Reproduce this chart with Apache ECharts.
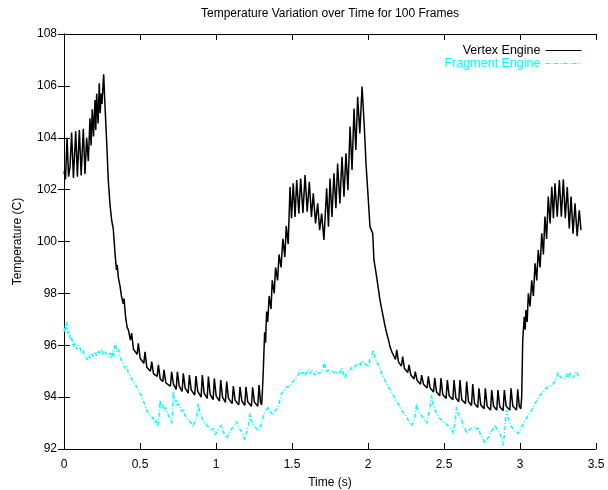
<!DOCTYPE html>
<html>
<head>
<meta charset="utf-8">
<script src="https://cdn.jsdelivr.net/npm/echarts@6/dist/echarts.min.js"></script>
<style>
html,body{margin:0;padding:0;background:#fff;}
#c{width:608px;height:490px;}
</style>
</head>
<body>
<div id="c"></div>
<script>
// ---- data (time in s, temperature in C) ----
var titleText = 'Temperature Variation over Time for 100 Frames';
var xTicks = [0, 0.5, 1, 1.5, 2, 2.5, 3, 3.5];
var yTicks = [92, 94, 96, 98, 100, 102, 104, 106, 108];
var seriesNames = ['Vertex Engine', 'Fragment Engine'];

var vertexData = [
[0.000,102.7],[0.010,102.4],[0.020,104.0],[0.030,102.5],[0.040,102.9],[0.050,104.2],[0.062,102.45],
[0.077,104.25],[0.088,102.5],[0.101,104.3],[0.113,102.55],[0.127,104.35],[0.138,102.6],[0.149,104.0],
[0.160,103.1],[0.171,104.75],[0.178,103.7],[0.186,105.1],[0.194,104.05],[0.204,105.45],[0.209,104.3],
[0.215,105.7],[0.224,104.55],[0.232,106.1],[0.238,104.95],[0.245,105.7],[0.250,105.3],[0.261,106.45],
[0.270,105.2],[0.281,103.8],[0.291,102.4],[0.303,101.4],[0.314,100.8],[0.324,100.5],[0.335,99.6],
[0.345,98.9],[0.350,99.1],[0.358,98.6],[0.368,98.3],[0.378,97.9],[0.390,97.6],[0.395,97.8],[0.405,97.1],
[0.415,96.7],[0.423,96.6],[0.437,96.2],[0.445,96.47],[0.457,95.85],[0.481,95.65],[0.489,96.07],
[0.501,95.5],[0.525,95.3],[0.533,95.75],[0.545,95.15],[0.569,95.0],[0.577,95.37],[0.589,94.9],
[0.613,94.8],[0.621,95.24],[0.633,94.7],[0.650,94.6],[0.658,95.05],[0.670,94.55],[0.700,94.42],
[0.708,94.98],[0.720,94.5],[0.738,94.3],[0.746,94.98],[0.758,94.42],[0.777,94.22],[0.785,94.92],
[0.797,94.35],[0.817,94.15],[0.825,94.85],[0.837,94.28],[0.860,94.08],[0.868,94.81],[0.880,94.22],
[0.902,94.0],[0.910,94.85],[0.922,94.15],[0.942,93.95],[0.950,94.79],[0.962,94.1],[0.981,93.9],
[0.989,94.72],[1.001,94.05],[1.023,93.85],[1.031,94.66],[1.043,94.0],[1.062,93.8],[1.070,94.6],
[1.082,93.95],[1.106,93.75],[1.114,94.43],[1.126,93.88],[1.150,93.7],[1.158,94.4],[1.170,93.85],
[1.189,93.68],[1.197,94.4],[1.209,93.82],[1.233,93.65],[1.241,94.38],[1.253,93.8],[1.275,93.65],
[1.283,94.47],[1.293,93.8],[1.300,93.7],[1.305,94.2],[1.311,95.0],[1.320,96.5],[1.326,96.1],
[1.333,97.3],[1.340,96.9],[1.350,97.9],[1.362,97.4],[1.370,98.5],[1.383,98.0],[1.392,99.0],
[1.405,98.5],[1.415,99.5],[1.428,99.0],[1.440,100.1],[1.453,99.4],[1.462,100.6],[1.475,99.9],
[1.487,102.1],[1.497,100.9],[1.508,102.24],[1.520,100.95],[1.531,102.37],[1.545,101.08],[1.557,102.43],
[1.572,101.1],[1.586,102.56],[1.600,101.15],[1.614,102.3],[1.628,100.95],[1.640,101.86],[1.655,100.7],
[1.669,101.47],[1.682,100.44],[1.695,101.08],[1.710,100.06],[1.728,102.05],[1.740,100.57],[1.750,102.43],
[1.763,100.95],[1.776,102.63],[1.789,101.28],[1.800,103.01],[1.815,101.47],[1.829,103.27],[1.842,101.73],
[1.855,103.4],[1.868,101.98],[1.882,104.43],[1.895,102.76],[1.908,105.13],[1.920,103.53],[1.932,105.58],
[1.946,104.17],[1.961,105.97],[1.975,104.5],[1.987,103.0],[2.000,101.8],[2.013,100.57],[2.025,100.4],
[2.031,100.32],[2.039,99.29],[2.050,98.9],[2.060,98.5],[2.070,98.1],[2.079,97.74],[2.090,97.4],
[2.100,97.1],[2.110,96.8],[2.123,96.46],[2.135,96.2],[2.145,95.94],[2.160,95.7],[2.181,95.45],
[2.189,95.82],[2.201,95.35],[2.220,95.2],[2.228,95.56],[2.240,95.1],[2.262,94.95],[2.270,95.24],
[2.282,94.85],[2.303,94.7],[2.311,94.98],[2.323,94.65],[2.345,94.5],[2.353,94.85],[2.365,94.5],
[2.389,94.35],[2.397,94.8],[2.409,94.35],[2.431,94.2],[2.439,94.73],[2.451,94.2],[2.472,94.05],
[2.480,94.73],[2.492,94.1],[2.514,93.95],[2.522,94.66],[2.534,94.05],[2.558,93.9],[2.566,94.66],
[2.578,93.97],[2.597,93.82],[2.605,94.66],[2.617,93.9],[2.641,93.75],[2.649,94.6],[2.661,93.83],
[2.681,93.68],[2.689,94.5],[2.701,93.75],[2.722,93.6],[2.730,94.34],[2.742,93.7],[2.764,93.55],
[2.772,94.34],[2.784,93.65],[2.806,93.5],[2.814,94.27],[2.826,93.65],[2.847,93.5],[2.855,94.27],
[2.867,93.63],[2.889,93.48],[2.897,94.27],[2.909,93.65],[2.933,93.5],[2.941,94.34],[2.953,93.65],
[2.977,93.5],[2.985,94.3],[2.995,93.65],[3.005,93.55],[3.011,94.0],[3.018,96.2],[3.028,97.1],
[3.034,96.6],[3.039,97.36],[3.047,96.9],[3.055,98.0],[3.066,97.5],[3.077,98.5],[3.088,97.9],
[3.099,99.16],[3.110,98.5],[3.120,99.67],[3.132,99.0],[3.143,100.32],[3.154,99.5],[3.164,100.96],
[3.175,100.1],[3.186,101.73],[3.198,100.7],[3.209,102.11],[3.220,100.9],[3.230,102.24],[3.245,100.96],
[3.259,102.37],[3.272,100.96],[3.285,102.4],[3.298,100.9],[3.311,102.1],[3.324,100.5],[3.336,101.73],
[3.349,100.3],[3.362,101.47],[3.376,100.2],[3.390,101.2],[3.401,100.44]
];

var fragmentData = [
[0.000,96.52],[0.006,96.75],[0.012,96.6],[0.018,96.9],[0.026,96.45],[0.034,96.55],[0.042,96.2],[0.050,96.3],
[0.061,95.94],[0.072,96.1],[0.083,95.85],[0.094,96.0],[0.105,95.9],[0.116,95.7],[0.127,95.8],[0.138,95.55],
[0.149,95.43],[0.160,95.65],[0.171,95.5],[0.182,95.7],[0.193,95.56],[0.204,95.75],[0.215,95.6],[0.226,95.8],
[0.237,95.69],[0.248,95.85],[0.259,95.6],[0.270,95.75],[0.281,95.69],[0.292,95.55],[0.303,95.7],[0.314,95.5],
[0.322,95.8],[0.330,95.6],[0.336,96.1],[0.342,96.07],[0.350,95.75],[0.359,95.85],[0.368,95.56],[0.379,95.4],
[0.390,95.3],[0.401,95.11],[0.412,95.2],[0.423,94.95],[0.434,94.85],[0.445,94.7],[0.456,94.75],[0.467,94.5],
[0.478,94.4],[0.489,94.3],[0.500,94.15],[0.511,94.02],[0.522,93.85],[0.533,93.7],[0.544,93.5],[0.555,93.55],
[0.566,93.3],[0.577,93.35],[0.588,93.18],[0.598,93.0],[0.607,93.1],[0.616,92.86],[0.624,93.1],[0.632,93.89],
[0.640,93.6],[0.650,93.7],[0.660,93.45],[0.668,93.6],[0.676,93.5],[0.686,93.3],[0.697,93.2],[0.709,92.99],
[0.714,93.4],[0.719,94.21],[0.727,93.8],[0.736,93.9],[0.745,93.65],[0.754,93.75],[0.763,93.63],[0.774,93.45],
[0.785,93.55],[0.796,93.3],[0.807,93.37],[0.818,93.15],[0.829,93.2],[0.840,92.95],[0.851,92.86],[0.860,93.05],
[0.872,93.2],[0.878,93.4],[0.884,93.76],[0.892,93.45],[0.900,93.3],[0.908,93.35],[0.916,93.12],[0.927,93.0],
[0.938,93.05],[0.950,92.85],[0.961,92.86],[0.972,92.7],[0.983,92.8],[0.994,92.55],[1.005,92.6],[1.016,92.75],
[1.027,92.85],[1.038,92.93],[1.046,92.7],[1.054,92.75],[1.062,92.5],[1.070,92.41],[1.081,92.55],[1.092,92.7],
[1.103,92.75],[1.114,92.86],[1.125,92.95],[1.136,93.05],[1.147,92.85],[1.158,92.8],[1.169,92.67],[1.180,92.5],
[1.191,92.35],[1.200,92.6],[1.212,92.9],[1.218,93.1],[1.224,93.37],[1.232,93.1],[1.240,93.15],[1.249,92.95],
[1.257,92.99],[1.265,92.8],[1.273,92.85],[1.281,92.7],[1.289,92.73],[1.300,93.0],[1.311,93.24],[1.322,93.4],
[1.333,93.5],[1.344,93.63],[1.355,93.45],[1.366,93.4],[1.377,93.31],[1.388,93.45],[1.399,93.5],[1.410,93.63],
[1.421,93.9],[1.432,94.15],[1.443,94.2],[1.454,94.3],[1.465,94.4],[1.476,94.45],[1.487,94.4],[1.498,94.53],
[1.509,94.55],[1.520,94.7],[1.531,94.66],[1.542,94.85],[1.553,95.05],[1.564,94.9],[1.575,95.0],[1.586,94.85],
[1.597,94.92],[1.608,95.05],[1.619,94.9],[1.630,95.05],[1.640,94.98],[1.651,94.85],[1.662,95.0],[1.673,94.9],
[1.684,94.85],[1.695,95.0],[1.706,95.1],[1.712,95.37],[1.717,95.3],[1.728,94.95],[1.739,95.05],[1.750,94.92],
[1.761,94.85],[1.772,95.0],[1.783,94.9],[1.794,94.98],[1.805,95.05],[1.816,94.95],[1.827,95.11],[1.838,94.9],
[1.849,94.72],[1.860,94.95],[1.871,94.9],[1.882,95.05],[1.893,95.15],[1.904,95.05],[1.915,95.2],[1.926,95.24],
[1.937,95.3],[1.948,95.2],[1.958,95.4],[1.969,95.43],[1.980,95.3],[1.991,95.35],[2.002,95.17],[2.013,95.45],
[2.024,95.55],[2.030,95.7],[2.035,95.82],[2.046,95.5],[2.057,95.37],[2.068,95.25],[2.079,95.1],[2.090,94.92],
[2.101,94.8],[2.112,94.65],[2.123,94.53],[2.134,94.4],[2.145,94.3],[2.155,94.2],[2.166,94.08],[2.177,93.95],
[2.188,93.85],[2.199,93.75],[2.211,93.63],[2.222,93.5],[2.233,93.4],[2.244,93.35],[2.255,93.24],[2.266,93.1],
[2.277,93.05],[2.288,92.9],[2.298,92.86],[2.305,93.1],[2.312,93.4],[2.320,93.76],[2.328,93.5],[2.336,93.55],
[2.345,93.35],[2.353,93.37],[2.364,93.2],[2.375,93.15],[2.386,92.99],[2.397,93.3],[2.408,93.6],[2.419,94.08],
[2.430,93.7],[2.441,93.5],[2.452,93.37],[2.463,93.25],[2.474,93.3],[2.485,93.1],[2.495,93.12],[2.506,93.0],
[2.517,93.05],[2.528,92.9],[2.539,92.93],[2.550,92.75],[2.561,92.6],[2.572,93.0],[2.583,93.63],[2.594,93.35],
[2.605,93.25],[2.616,93.12],[2.627,92.9],[2.638,92.8],[2.649,92.6],[2.660,92.7],[2.671,92.65],[2.682,92.8],
[2.693,92.73],[2.704,92.85],[2.715,92.75],[2.726,92.86],[2.737,92.6],[2.748,92.5],[2.759,92.35],[2.770,92.22],
[2.781,92.35],[2.792,92.45],[2.803,92.6],[2.814,92.7],[2.825,92.8],[2.836,92.93],[2.847,92.75],[2.858,92.7],
[2.868,92.6],[2.879,92.4],[2.890,92.15],[2.898,92.6],[2.905,93.1],[2.912,93.5],[2.923,93.2],[2.934,93.0],
[2.945,92.86],[2.956,92.8],[2.967,92.7],[2.978,92.75],[2.989,92.6],[3.000,92.75],[3.011,92.85],[3.022,92.99],
[3.033,93.1],[3.044,93.2],[3.055,93.31],[3.066,93.4],[3.077,93.5],[3.088,93.63],[3.099,93.75],[3.110,93.85],
[3.121,93.95],[3.132,94.08],[3.143,94.15],[3.154,94.2],[3.165,94.3],[3.176,94.34],[3.187,94.4],[3.198,94.35],
[3.209,94.45],[3.219,94.47],[3.230,94.6],[3.241,94.75],[3.252,94.98],[3.263,94.8],[3.274,94.85],[3.285,94.7],
[3.299,94.72],[3.310,94.9],[3.320,94.75],[3.330,94.95],[3.340,94.85],[3.351,94.75],[3.362,94.9],[3.373,94.98],
[3.384,94.8],[3.395,94.72]
];

// ---- chart ----
var FONT = 'Liberation Sans, Arial, Helvetica, sans-serif';
var chart = echarts.init(document.getElementById('c'), null, {renderer: 'canvas'});

function axisBase(extra) {
  var a = {
    axisLine: {show: true, lineStyle: {color: '#000', width: 1}},
    axisTick: {show: true, inside: true, length: 6, lineStyle: {color: '#000', width: 1}},
    splitLine: {show: false},
    minorTick: {show: false}
  };
  for (var k in extra) a[k] = extra[k];
  return a;
}

var option = {
  animation: false,
  backgroundColor: '#fff',
  grid: {left: 64, right: 12, top: 34, bottom: 41, containLabel: false, outerBoundsMode: 'none'},
  graphic: [{
    type: 'text', left: 330 - 129, top: 8,
    style: {text: titleText, fill: '#000', font: '12px ' + FONT}
  }],
  legend: {
    orient: 'vertical', right: 21, top: 39, align: 'right',
    itemWidth: 36, itemHeight: 10, itemGap: 0,
    itemStyle: {opacity: 0},
    lineStyle: {width: 1},
    textStyle: {fontFamily: FONT, fontSize: 12.5},
    data: [
      {name: seriesNames[0], textStyle: {color: '#000'}},
      {name: seriesNames[1], textStyle: {color: '#00ffff'}}
    ]
  },
  xAxis: [
    axisBase({
      type: 'value', min: xTicks[0], max: xTicks[xTicks.length - 1], interval: 0.5,
      position: 'bottom',
      axisLabel: {color: '#000', fontFamily: FONT, fontSize: 12, margin: 10},
      name: 'Time (s)', nameLocation: 'middle', nameGap: 28,
      nameTextStyle: {color: '#000', fontFamily: FONT, fontSize: 12}
    }),
    axisBase({
      type: 'value', min: xTicks[0], max: xTicks[xTicks.length - 1], interval: 0.5,
      position: 'top', axisLabel: {show: false}
    })
  ],
  yAxis: [
    axisBase({
      type: 'value', min: yTicks[0], max: yTicks[yTicks.length - 1], interval: 2,
      position: 'left',
      axisLabel: {color: '#000', fontFamily: FONT, fontSize: 12, margin: 7},
      name: 'Temperature (C)', nameLocation: 'middle', nameGap: 40, nameRotate: 90,
      nameTextStyle: {color: '#000', fontFamily: FONT, fontSize: 12}
    }),
    axisBase({
      type: 'value', min: yTicks[0], max: yTicks[yTicks.length - 1], interval: 2,
      position: 'right', axisLabel: {show: false}
    })
  ],
  series: [
    {
      name: seriesNames[0], type: 'line', data: vertexData,
      xAxisIndex: 0, yAxisIndex: 0,
      showSymbol: false, symbol: 'none',
      lineStyle: {color: '#000', width: 1.5},
      itemStyle: {color: '#000'}
    },
    {
      name: seriesNames[1], type: 'line', data: fragmentData,
      xAxisIndex: 0, yAxisIndex: 0,
      showSymbol: false, symbol: 'none',
      lineStyle: {color: '#00ffff', width: 1.5, type: [4, 2, 1, 2]},
      itemStyle: {color: '#00ffff'}
    }
  ]
};
chart.setOption(option);
</script>
</body>
</html>
